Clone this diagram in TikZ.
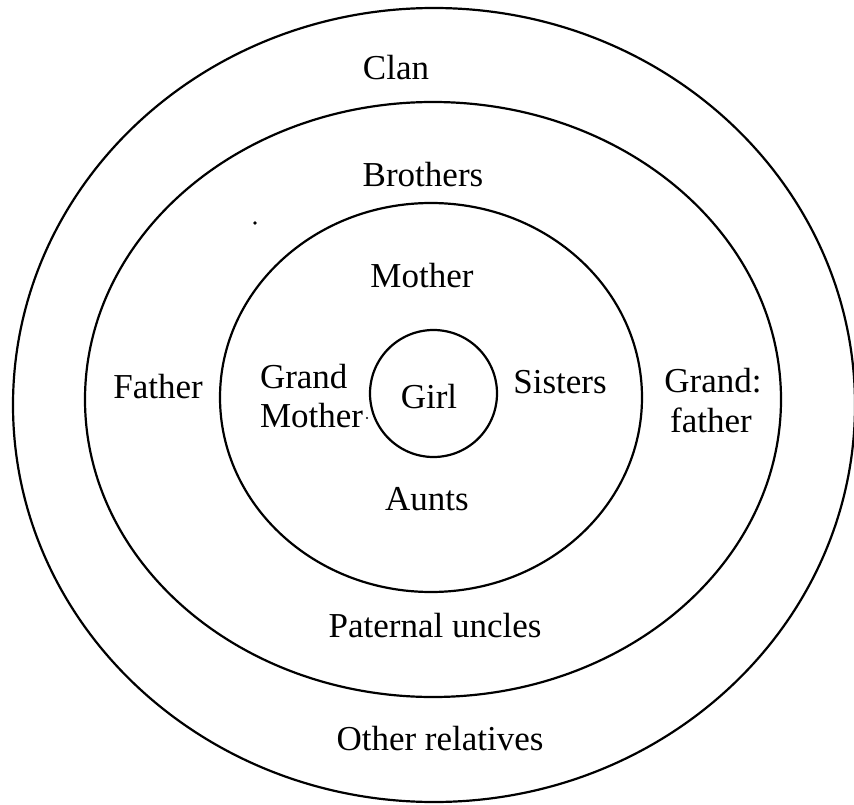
\documentclass[tikz,border=0pt]{standalone}
\usepackage{fontspec}
\setmainfont{Liberation Serif}
\begin{document}
\begin{tikzpicture}[x=1pt,y=-1pt,
  ring/.style={draw=black,line width=2.2pt},
  lbl/.style={inner sep=0pt,outer sep=0pt,font=\fontsize{35}{40}\selectfont,text=black},
  speck/.style={fill=black}]
\useasboundingbox[fill=white] (0,0) rectangle (854,805);
% rings
\draw[ring] (434,405) ellipse [x radius=421, y radius=397];
\draw[ring] (433,399.5) ellipse [x radius=348, y radius=297.5];
\draw[ring] (431,397.5) ellipse [x radius=211, y radius=194.5];
\draw[ring] (433.5,393.5) circle [radius=63.5];
% labels
\node[lbl,anchor=base] (clan) at (396,80) {Clan};
\node[lbl,anchor=base] (brothers) at (423,187) {Brothers};
\node[lbl,anchor=base] (mother) at (422,287) {Mother};
\node[lbl,anchor=base west] (gm1) at (260,388) {Grand};
\node[lbl,anchor=base west] (gm2) at (260,427) {Mother};
\node[lbl,anchor=base] (girl) at (429,408) {Girl};
\node[lbl,anchor=base] (sisters) at (560,393) {Sisters};
\node[lbl,anchor=base] (gf1) at (713,392) {Grand:};
\node[lbl,anchor=base] (gf2) at (711,432) {father};
\node[lbl,anchor=base] (father) at (158,398) {Father};
\node[lbl,anchor=base] (aunts) at (427,510) {Aunts};
\node[lbl,anchor=base] (uncles) at (435,637) {Paternal uncles};
\node[lbl,anchor=base] (others) at (440,750) {Other relatives};
% stray specks
\fill[speck] (255,223) circle [radius=1.8];
\fill[speck] (367,418) circle [radius=1.2];
\end{tikzpicture}
\end{document}
